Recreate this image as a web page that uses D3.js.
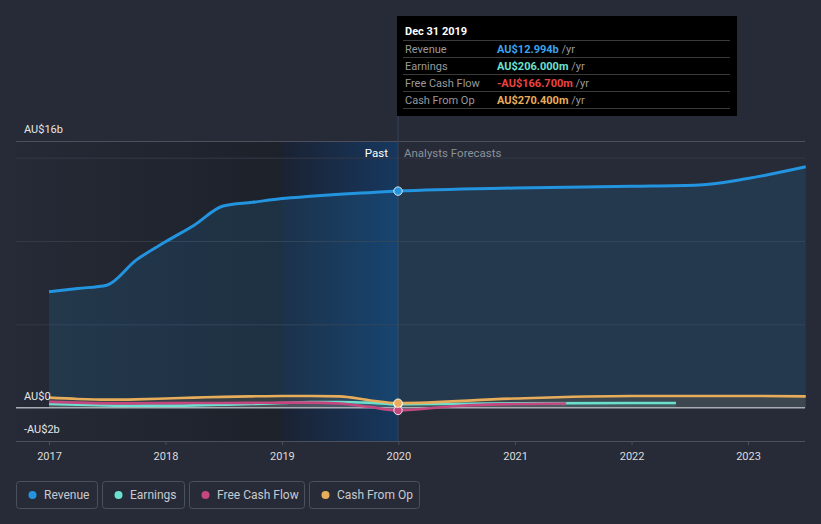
<!DOCTYPE html>
<html><head><meta charset="utf-8">
<script src="https://cdn.jsdelivr.net/npm/d3@7"></script>
<style>
html,body{margin:0;padding:0;background:#262b37;}
svg{display:block;font-family:Roboto,"Noto Sans",sans-serif;}
</style></head>
<body>
<svg id="chart" width="821" height="524"></svg>
<script>
// ---- data (AU$ billions) ----
const pastDates = ["2017-01-01","2017-04-01","2017-07-01","2017-10-01","2018-01-01","2018-04-01","2018-07-01","2018-10-01","2019-01-01","2019-04-01","2019-07-01","2019-10-01","2019-12-31"];
const revenuePast = [6.95,7.15,7.35,8.85,9.95,10.95,12.1,12.32,12.55,12.68,12.8,12.9,12.994];
const earningsPast = [0.22,0.18,0.14,0.12,0.12,0.14,0.18,0.22,0.28,0.33,0.34,0.3,0.206];
const fcfPast = [0.35,0.3,0.26,0.26,0.27,0.28,0.28,0.29,0.3,0.3,0.25,0.05,-0.1667];
const cfoPast = [0.6,0.52,0.48,0.5,0.55,0.6,0.65,0.68,0.7,0.7,0.68,0.45,0.2704];

const revFcDates = ["2019-12-31","2020-12-31","2021-12-31","2022-08-01","2022-12-31","2023-07-01"];
const revenueFc = [12.994,13.18,13.28,13.36,13.75,14.45];
const earnFcDates = ["2019-12-31","2020-12-31","2021-12-31","2022-05-20"];
const earningsFc = [0.206,0.26,0.28,0.28];
const fcfFcDates = ["2019-12-31","2020-07-01","2020-12-31","2021-06-10"];
const fcfFc = [-0.1667,0.1,0.22,0.25];
const cfoFcDates = ["2019-12-31","2020-12-31","2021-12-31","2022-12-31","2023-07-01"];
const cfoFc = [0.2704,0.55,0.7,0.7,0.68];

const yTickVals = [-2,0,16];
const yTickLabels = ["-AU$2b","AU$0","AU$16b"];
const gridVals = [5,10,15];
const xTickYears = [2017,2018,2019,2020,2021,2022,2023];

const seriesNames = ["Revenue","Earnings","Free Cash Flow","Cash From Op"];
const seriesColors = ["#2394df","#6ce0cf","#c4477f","#e8ad5a"];
const tooltipTitle = "Dec 31 2019";
const tooltipValues = ["AU$12.994b","AU$206.000m","-AU$166.700m","AU$270.400m"];
const tooltipValueColors = ["#3ea3ea","#6ce0cf","#ee4440","#e8ad5a"];

// ---- scales ----
const parse = d3.timeParse("%Y-%m-%d");
const x = d3.scaleTime().domain([new Date(2017,0,1), new Date(2023,0,1)]).range([49,748]);
const y = d3.scaleLinear().domain([-2,16]).range([441,141]);
const nowX = x(parse("2019-12-31"));
const plotL = 16, plotR = 805;

const svg = d3.select("#chart");
const defs = svg.append("defs");
const g1 = defs.append("linearGradient").attr("id","pastBg").attr("x1","0").attr("x2","1").attr("y1","0").attr("y2","0");
g1.append("stop").attr("offset","0").attr("stop-color","#252a36");
g1.append("stop").attr("offset","1").attr("stop-color","#1d212a");
const g2 = defs.append("linearGradient").attr("id","pastBlue").attr("x1","0").attr("x2","1").attr("y1","0").attr("y2","0");
g2.append("stop").attr("offset","0").attr("stop-color","#1b2233");
g2.append("stop").attr("offset","1").attr("stop-color","#16385f");

svg.append("rect").attr("width",821).attr("height",524).attr("fill","#262b37");

// past background
svg.append("rect").attr("x",plotL).attr("y",y(16)).attr("width",x(new Date(2019,0,1))-plotL).attr("height",y(-2)-y(16)).attr("fill","url(#pastBg)");
svg.append("rect").attr("x",x(new Date(2019,0,1))).attr("y",y(16)).attr("width",nowX-x(new Date(2019,0,1))).attr("height",y(-2)-y(16)).attr("fill","url(#pastBlue)");

// gridlines
svg.append("g").selectAll("line").data(gridVals).join("line")
  .attr("x1",plotL).attr("x2",plotR).attr("y1",d=>y(d)+0.5).attr("y2",d=>y(d)+0.5)
  .attr("stroke","#343946").attr("stroke-width",1);
svg.append("line").attr("x1",plotL).attr("x2",plotR).attr("y1",y(16)+0.5).attr("y2",y(16)+0.5).attr("stroke","#4b505c");

// vertical now line
svg.append("line").attr("x1",nowX).attr("x2",nowX).attr("y1",116).attr("y2",y(-2)).attr("stroke","#34445a").attr("stroke-width",1);

// series
const mk = (dates, vals) => dates.map((d,i)=>({date:parse(d), v:vals[i]}));
const series = [
  {name:"Revenue", data: mk(pastDates,revenuePast).concat(mk(revFcDates,revenueFc).slice(1))},
  {name:"Earnings", data: mk(pastDates,earningsPast).concat(mk(earnFcDates,earningsFc).slice(1))},
  {name:"Free Cash Flow", data: mk(pastDates,fcfPast).concat(mk(fcfFcDates,fcfFc).slice(1))},
  {name:"Cash From Op", data: mk(pastDates,cfoPast).concat(mk(cfoFcDates,cfoFc).slice(1))}
];
const area = d3.area().x(d=>x(d.date)).y0(y(0)).y1(d=>y(d.v)).curve(d3.curveMonotoneX);
const line = d3.line().x(d=>x(d.date)).y(d=>y(d.v)).curve(d3.curveMonotoneX);

series.forEach((s,i)=>{
  svg.append("path").datum(s.data).attr("d",area).attr("fill",seriesColors[i]).attr("fill-opacity", i===0?0.14:0.12);
});

// zero line
svg.append("line").attr("x1",plotL).attr("x2",plotR).attr("y1",y(0)).attr("y2",y(0)).attr("stroke","#a9acb3").attr("stroke-width",1.5);

series.forEach((s,i)=>{
  svg.append("path").datum(s.data).attr("d",line).attr("fill","none")
    .attr("stroke",seriesColors[i]).attr("stroke-width",i===0?3:2.6).attr("stroke-linejoin","round");
});

// dots at now
const nowVals = [revenuePast[12],earningsPast[12],fcfPast[12],cfoPast[12]];
[0,1,2,3].forEach(i=>{
  svg.append("circle").attr("cx",nowX).attr("cy",y(nowVals[i])).attr("r",4.2)
    .attr("fill",seriesColors[i]).attr("stroke","#ffffff").attr("stroke-opacity",0.85).attr("stroke-width",1);
});

// Past / Analysts Forecasts
svg.append("text").attr("x",nowX-10).attr("y",157).attr("text-anchor","end").attr("fill","#ffffff").attr("font-size",11.5).text("Past");
svg.append("text").attr("x",nowX+6).attr("y",157).attr("fill","#8c919b").attr("font-size",11.5).text("Analysts Forecasts");

// y labels
svg.append("g").selectAll("text").data(yTickVals).join("text")
  .attr("x",24).attr("y",d=>y(d)-8).attr("fill","#e6e6e6").attr("font-size",11)
  .text((d,i)=>yTickLabels[i]);

// x axis
const xAxis = d3.axisBottom(x).tickValues(xTickYears.map(yr=>new Date(yr,0,1))).tickFormat(d3.timeFormat("%Y")).tickSize(4).tickPadding(7);
const ax = svg.append("g").attr("transform",`translate(0,${y(-2)})`).call(xAxis);
ax.select(".domain").remove();
ax.selectAll(".tick line").attr("stroke","#4a505c");
ax.selectAll(".tick text").attr("fill","#dcdcdc").attr("font-size",11).attr("font-family","Roboto, sans-serif");
svg.append("line").attr("x1",plotL).attr("x2",plotR).attr("y1",y(-2)+0.5).attr("y2",y(-2)+0.5).attr("stroke","#4a505c");

// tooltip
const tt = svg.append("g");
tt.append("rect").attr("x",397).attr("y",16).attr("width",340).attr("height",100).attr("fill","#000000");
tt.append("text").attr("x",405).attr("y",35).attr("fill","#ffffff").attr("font-size",11).attr("font-weight","bold").text(tooltipTitle);
const rowY = [40.5,57.5,74.5,91.5,108.5];
rowY.forEach(r=>tt.append("line").attr("x1",403).attr("x2",730).attr("y1",r).attr("y2",r).attr("stroke","#3a3a3a"));
seriesNames.forEach((n,i)=>{
  const by = rowY[i]+12;
  tt.append("text").attr("x",405).attr("y",by).attr("fill","#9a9a9a").attr("font-size",11).text(n);
  const t = tt.append("text").attr("x",497).attr("y",by).attr("font-size",11);
  t.append("tspan").attr("fill",tooltipValueColors[i]).attr("font-weight","bold").text(tooltipValues[i]);
  t.append("tspan").attr("fill","#9a9a9a").text(" /yr");
});

// legend
const legW = [81,82,115,110];
let lx = 16;
seriesNames.forEach((n,i)=>{
  const lg = svg.append("g").attr("transform",`translate(${lx},481)`);
  lg.append("rect").attr("x",0.5).attr("y",0.5).attr("width",legW[i]).attr("height",27).attr("rx",3)
    .attr("fill","none").attr("stroke","#4a505c");
  lg.append("circle").attr("cx",16.5).attr("cy",14).attr("r",4).attr("fill",seriesColors[i]);
  lg.append("text").attr("x",44-16).attr("y",18).attr("fill","#c8cad0").attr("font-size",12).text(n);
  lx += legW[i] + 5;
});
</script>
</body></html>
